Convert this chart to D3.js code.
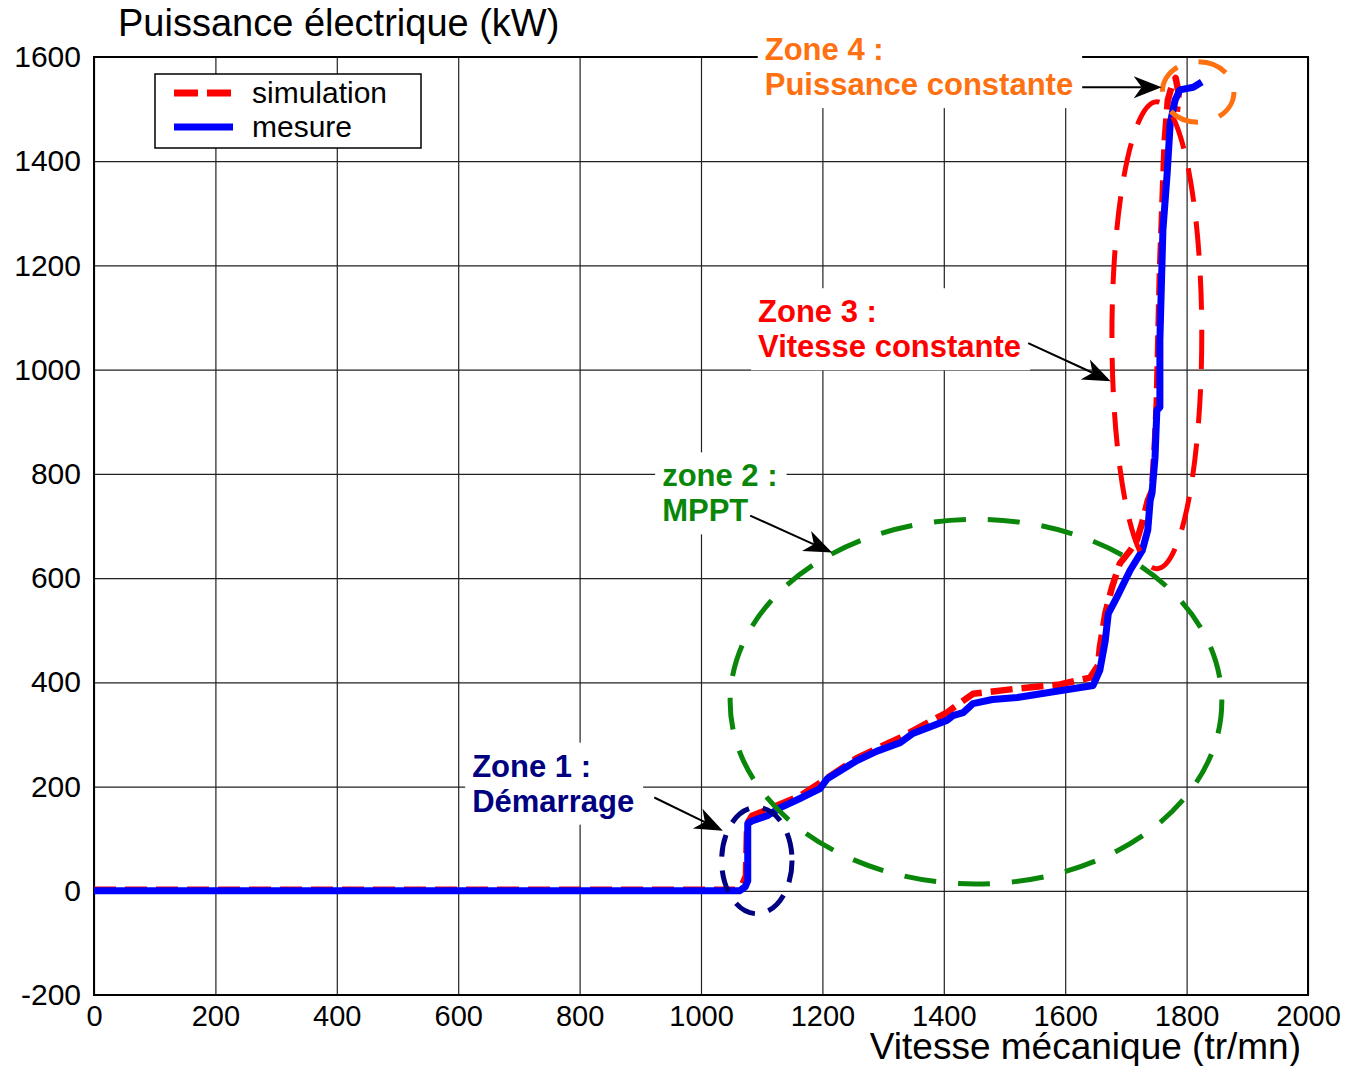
<!DOCTYPE html>
<html>
<head>
<meta charset="utf-8">
<script src="https://cdn.jsdelivr.net/npm/d3@7"></script>
<style>
  body { margin: 0; background: #fff; }
  svg { display: block; }
  text { font-family: "Liberation Sans", Arial, Helvetica, sans-serif; }
</style>
</head>
<body>
<svg id="chart" width="1345" height="1066"></svg>
<script>
// Axis ticks
const xTicks = [0, 200, 400, 600, 800, 1000, 1200, 1400, 1600, 1800, 2000];
const yTicks = [-200, 0, 200, 400, 600, 800, 1000, 1200, 1400, 1600];

// Measured electrical power versus mechanical speed
const mesureSpeed = [0, 1064, 1073, 1077, 1077, 1084, 1109, 1130, 1163, 1196, 1208, 1257, 1290, 1328, 1349, 1405, 1415, 1432, 1448, 1480, 1521, 1591, 1646, 1657, 1666, 1671, 1685, 1707, 1727, 1736, 1740, 1743, 1748, 1751, 1756, 1756, 1759, 1761, 1768, 1773, 1781, 1789, 1811, 1825];
const mesurePower = [0, 0, 8, 19, 129, 134, 144, 159, 177, 196, 215, 250, 268, 284, 302, 327, 336, 342, 359, 367, 371, 384, 394, 423, 480, 532, 563, 615, 653, 692, 749, 763, 832, 922, 928, 1056, 1185, 1268, 1377, 1473, 1517, 1537, 1542, 1552];

// Simulated electrical power versus mechanical speed
const simulationSpeed = [0, 1056, 1068, 1074, 1076, 1084, 1114, 1163, 1201, 1257, 1328, 1405, 1448, 1521, 1591, 1641, 1654, 1657, 1666, 1677, 1690, 1707, 1718, 1728, 1736, 1743, 1748, 1751, 1756, 1764, 1769, 1776, 1782, 1787, 1784];
const simulationPower = [2, 2, 12, 29, 129, 144, 158, 182, 211, 255, 294, 342, 378, 388, 396, 409, 432, 467, 532, 582, 628, 653, 672, 711, 749, 768, 864, 941, 1185, 1441, 1517, 1546, 1560, 1530, 1495];

// Legend entries
const seriesNames = ["simulation", "mesure"];

// Operating zones: ellipse centre/radii in (speed, power) units
const zoneNames = [["Zone 1 :", "Démarrage"], ["zone 2 :", "MPPT"], ["Zone 3 :", "Vitesse constante"], ["Zone 4 :", "Puissance constante"]];
const zoneCx = [1092, 1453, 1751, 1819];
const zoneCy = [58, 363, 1066, 1533];
const zoneRx = [58, 405, 74, 59];
const zoneRy = [102, 350, 448, 58];
// Label anchor (first line) and arrow endpoints, in (speed, power) units
const labelX = [623, 936, 1094, 1105];
const labelY = [219, 776, 1091, 1594];
const arrowFromX = [923, 1081, 1539, 1628];
const arrowFromY = [179, 720, 1051, 1542];
const arrowToX = [1036, 1216, 1675, 1759];
const arrowToY = [115, 649, 978, 1542];

const zoneColors = ["#000080", "#0a870a", "#ff0000", "#ff7010"];
const zoneDash = ["22,14", "32,22", "34,20", "30,22"];

const svg = d3.select("#chart");
const plotL = 94, plotR = 1308, plotT = 57, plotB = 995;
const W = plotR - plotL, H = plotB - plotT;

const x = d3.scaleLinear().domain([0, 2000]).range([plotL, plotR]);
const y = d3.scaleLinear().domain([-200, 1600]).range([plotB, plotT]);

// Grid
const grid = svg.append("g");
grid.append("g").attr("transform", `translate(0,${plotB})`)
  .call(d3.axisBottom(x).tickValues(xTicks).tickSize(-H).tickFormat(""))
  .call(g => g.select(".domain").remove())
  .selectAll("line").attr("stroke", "#222").attr("stroke-width", 1.2);
grid.append("g").attr("transform", `translate(${plotL},0)`)
  .call(d3.axisLeft(y).tickValues(yTicks).tickSize(-W).tickFormat(""))
  .call(g => g.select(".domain").remove())
  .selectAll("line").attr("stroke", "#222").attr("stroke-width", 1.2);

// Frame
svg.append("rect").attr("x", plotL).attr("y", plotT).attr("width", W).attr("height", H)
  .attr("fill", "none").attr("stroke", "#000").attr("stroke-width", 2);

// Tick labels (plain hyphen for negatives)
const fmt = d => String(d);
svg.append("g").attr("transform", `translate(0,${plotB})`)
  .call(d3.axisBottom(x).tickValues(xTicks).tickSize(0).tickPadding(10).tickFormat(fmt))
  .call(g => g.select(".domain").remove())
  .selectAll("text").attr("font-size", 29).attr("fill", "#000")
  .attr("font-family", '"Liberation Sans", Arial, sans-serif');
svg.append("g").attr("transform", `translate(${plotL},0)`)
  .call(d3.axisLeft(y).tickValues(yTicks).tickSize(0).tickPadding(13).tickFormat(fmt))
  .call(g => g.select(".domain").remove())
  .selectAll("text").attr("font-size", 30).attr("fill", "#000")
  .attr("font-family", '"Liberation Sans", Arial, sans-serif');

// Axis titles
svg.append("text").attr("x", 118).attr("y", 36).attr("font-size", 38).text("Puissance électrique (kW)");
svg.append("text").attr("x", 1301).attr("y", 1059).attr("font-size", 37).attr("text-anchor", "end")
  .text("Vitesse mécanique (tr/mn)");

// Zone labels with white backing boxes (drawn before curves so they hide the grid)
const labelLayer = svg.append("g");
zoneNames.forEach((lines, i) => {
  const g = labelLayer.append("g");
  const box = g.append("rect").attr("fill", "#fff");
  const t = g.append("text").attr("font-size", 31).attr("font-weight", "bold").attr("fill", zoneColors[i]);
  lines.forEach((s, k) => {
    t.append("tspan").attr("x", x(labelX[i])).attr("y", y(labelY[i]) + k * 35).text(s);
  });
  const bb = t.node().getBBox();
  box.attr("x", bb.x - 7).attr("y", bb.y - 6).attr("width", bb.width + 16).attr("height", bb.height + 12);
});

// Curves
const line = d3.line().x(d => x(d[0])).y(d => y(d[1]));
const simData = simulationSpeed.map((s, i) => [s, simulationPower[i]]);
const mesData = mesureSpeed.map((s, i) => [s, mesurePower[i]]);
svg.append("path").datum(simData).attr("d", line)
  .attr("fill", "none").attr("stroke", "#ff0000").attr("stroke-width", 6.5)
  .attr("stroke-dasharray", "22,9").attr("stroke-linejoin", "round");
svg.append("path").datum(mesData).attr("d", line)
  .attr("fill", "none").attr("stroke", "#0000ff").attr("stroke-width", 7)
  .attr("stroke-linejoin", "round");

// Zone ellipses
zoneCx.forEach((cx, i) => {
  svg.append("ellipse")
    .attr("cx", x(cx)).attr("cy", y(zoneCy[i]))
    .attr("rx", x(zoneRx[i]) - x(0)).attr("ry", y(0) - y(zoneRy[i]))
    .attr("fill", "none").attr("stroke", zoneColors[i]).attr("stroke-width", 5)
    .attr("stroke-dasharray", zoneDash[i]);
});

// Arrows
function arrow(x1, y1, x2, y2) {
  const a = Math.atan2(y2 - y1, x2 - x1);
  const L = 28, hw = 11, notch = 8;
  const ux = Math.cos(a), uy = Math.sin(a), px = -uy, py = ux;
  const bx = x2 - ux * L, by = y2 - uy * L;
  const nx = x2 - ux * (L - notch), ny = y2 - uy * (L - notch);
  svg.append("line").attr("x1", x1).attr("y1", y1).attr("x2", nx).attr("y2", ny)
    .attr("stroke", "#000").attr("stroke-width", 2);
  svg.append("path")
    .attr("d", `M${x2},${y2}L${bx + px * hw},${by + py * hw}L${nx},${ny}L${bx - px * hw},${by - py * hw}Z`)
    .attr("fill", "#000");
}
arrowFromX.forEach((fx, i) => arrow(x(fx), y(arrowFromY[i]), x(arrowToX[i]), y(arrowToY[i])));

// Legend
const lg = svg.append("g");
lg.append("rect").attr("x", 155).attr("y", 74).attr("width", 266).attr("height", 74)
  .attr("fill", "#fff").attr("stroke", "#000").attr("stroke-width", 1.5);
const legendStyles = [
  { color: "#ff0000", dash: "24,9", w: 7 },
  { color: "#0000ff", dash: null, w: 7 }
];
seriesNames.forEach((name, i) => {
  const yy = 93 + i * 34;
  const l = lg.append("line").attr("x1", 174).attr("x2", 233).attr("y1", yy).attr("y2", yy)
    .attr("stroke", legendStyles[i].color).attr("stroke-width", legendStyles[i].w);
  if (legendStyles[i].dash) l.attr("stroke-dasharray", legendStyles[i].dash);
  lg.append("text").attr("x", 252).attr("y", yy + 10).attr("font-size", 30).text(name);
});
</script>
</body>
</html>
